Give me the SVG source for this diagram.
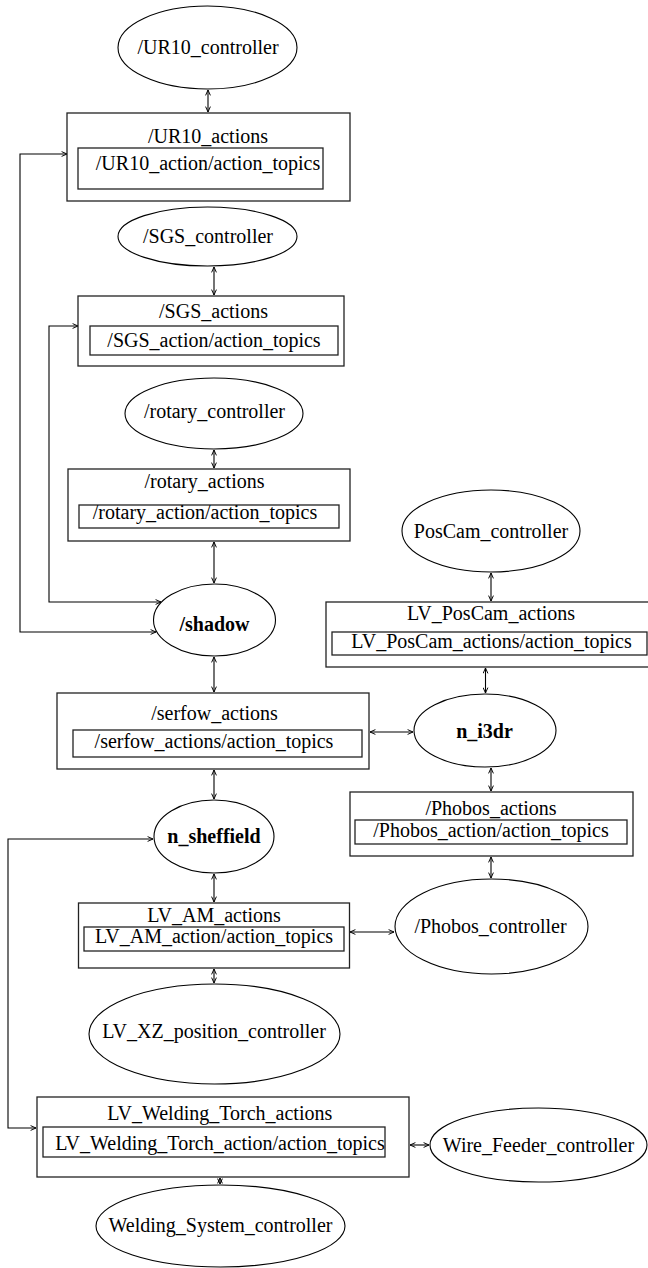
<svg xmlns="http://www.w3.org/2000/svg" width="648" height="1268" viewBox="0 0 648 1268">
<style>
.bg{fill:#fff}
.n{fill:#fff;stroke:#000;stroke-width:1.1}
.b{fill:#fff;stroke:#222;stroke-width:1.3}
.t{font-family:"Liberation Serif","Times New Roman",serif;font-size:20px;fill:#000;text-anchor:middle}
.bd{font-weight:bold}
.c{fill:none;stroke:#000;stroke-width:1.1;marker-start:url(#ah);marker-end:url(#ah)}
</style>
<defs>
<marker id="ah" viewBox="0 0 10 10" refX="10" refY="5" markerWidth="6" markerHeight="6" markerUnits="userSpaceOnUse" orient="auto-start-reverse">
<path d="M1,1 L10,5 L1,9" fill="none" stroke="#000" stroke-width="1.6"/>
</marker>
</defs>
<rect class="bg" x="0" y="0" width="648" height="1268"/>
<g id="connectors">
<path class="c" d="M208,90 V112"/>
<path class="c" d="M214,267 V295"/>
<path class="c" d="M214,450 V468"/>
<path class="c" d="M214,542 V583"/>
<path class="c" d="M67,154 H20 V632 H156"/>
<path class="c" d="M78,326 H49 V602 H161"/>
<path class="c" d="M214,657 V692"/>
<path class="c" d="M370,732 H413"/>
<path class="c" d="M491,573 V601"/>
<path class="c" d="M485.5,668 V693"/>
<path class="c" d="M491,768 V791"/>
<path class="c" d="M491,857 V878"/>
<path class="c" d="M214,770 V799"/>
<path class="c" d="M214,874 V902"/>
<path class="c" d="M153,839 H8 V1128 H36"/>
<path class="c" d="M350,932 H394"/>
<path class="c" d="M214,969 V983"/>
<path class="c" d="M410,1145 H429"/>
<path class="c" d="M220,1178 V1184"/>
</g>
<g id="UR10_controller">
<ellipse class="n" cx="207.5" cy="47.5" rx="89.5" ry="41.5"/>
<text class="t" x="208" y="54">/UR10_controller</text>
</g>
<g id="UR10_actions">
<rect class="b" x="67" y="113" width="283" height="88"/>
<text class="t" x="208" y="143">/UR10_actions</text>
<rect class="b" x="78" y="148" width="245" height="41"/>
<text class="t" x="208" y="170">/UR10_action/action_topics</text>
</g>
<g id="SGS_controller">
<ellipse class="n" cx="207.5" cy="236.5" rx="89.5" ry="29.5"/>
<text class="t" x="208" y="243">/SGS_controller</text>
</g>
<g id="SGS_actions">
<rect class="b" x="78" y="296" width="266" height="70"/>
<text class="t" x="213.5" y="318">/SGS_actions</text>
<rect class="b" x="90" y="326" width="248" height="29"/>
<text class="t" x="214" y="347">/SGS_action/action_topics</text>
</g>
<g id="rotary_controller">
<ellipse class="n" cx="214" cy="413.5" rx="89" ry="35.5"/>
<text class="t" x="214.5" y="418">/rotary_controller</text>
</g>
<g id="rotary_actions">
<rect class="b" x="68" y="469" width="282" height="72"/>
<text class="t" x="204.5" y="488">/rotary_actions</text>
<rect class="b" x="79" y="505" width="260" height="23"/>
<text class="t" x="205" y="519">/rotary_action/action_topics</text>
</g>
<g id="shadow">
<ellipse class="n" cx="214.5" cy="620" rx="61" ry="36"/>
<text class="t bd" x="214.5" y="631">/shadow</text>
</g>
<g id="serfow_actions">
<rect class="b" x="57" y="693" width="312" height="76"/>
<text class="t" x="214.5" y="720">/serfow_actions</text>
<rect class="b" x="73" y="730" width="289" height="27"/>
<text class="t" x="214" y="748">/serfow_actions/action_topics</text>
</g>
<g id="n_i3dr">
<ellipse class="n" cx="485" cy="730.5" rx="71" ry="36.5"/>
<text class="t bd" x="484.5" y="738">n_i3dr</text>
</g>
<g id="PosCam_controller">
<ellipse class="n" cx="491" cy="531" rx="89" ry="41"/>
<text class="t" x="491" y="538">PosCam_controller</text>
</g>
<g id="LV_PosCam_actions">
<rect class="b" x="326" y="602" width="326" height="65"/>
<text class="t" x="491" y="620">LV_PosCam_actions</text>
<rect class="b" x="332" y="632" width="315" height="23"/>
<text class="t" x="491.5" y="648">LV_PosCam_actions/action_topics</text>
</g>
<g id="Phobos_actions">
<rect class="b" x="350" y="792" width="283" height="64"/>
<text class="t" x="491" y="815">/Phobos_actions</text>
<rect class="b" x="355" y="820" width="272" height="24"/>
<text class="t" x="491" y="837">/Phobos_action/action_topics</text>
</g>
<g id="n_sheffield">
<ellipse class="n" cx="214" cy="836.5" rx="60" ry="36.5"/>
<text class="t bd" x="214" y="843">n_sheffield</text>
</g>
<g id="LV_AM_actions">
<rect class="b" x="78.5" y="903" width="271" height="65"/>
<text class="t" x="214" y="922">LV_AM_actions</text>
<rect class="b" x="84" y="927" width="260" height="24"/>
<text class="t" x="214" y="943">LV_AM_action/action_topics</text>
</g>
<g id="Phobos_controller">
<ellipse class="n" cx="491.5" cy="926.5" rx="96.5" ry="47.5"/>
<text class="t" x="490.5" y="933">/Phobos_controller</text>
</g>
<g id="LV_XZ_position_controller">
<ellipse class="n" cx="214.5" cy="1034" rx="125.5" ry="50"/>
<text class="t" x="214" y="1038">LV_XZ_position_controller</text>
</g>
<g id="LV_Welding_Torch_actions">
<rect class="b" x="37" y="1097" width="372" height="80"/>
<text class="t" x="219.7" y="1120">LV_Welding_Torch_actions</text>
<rect class="b" x="43" y="1127" width="342" height="30"/>
<text class="t" x="220" y="1150">LV_Welding_Torch_action/action_topics</text>
</g>
<g id="Wire_Feeder_controller">
<ellipse class="n" cx="538.5" cy="1145" rx="108.5" ry="37"/>
<text class="t" x="538.5" y="1152">Wire_Feeder_controller</text>
</g>
<g id="Welding_System_controller">
<ellipse class="n" cx="220.5" cy="1226" rx="124.5" ry="41"/>
<text class="t" x="220.5" y="1232">Welding_System_controller</text>
</g>
</svg>
